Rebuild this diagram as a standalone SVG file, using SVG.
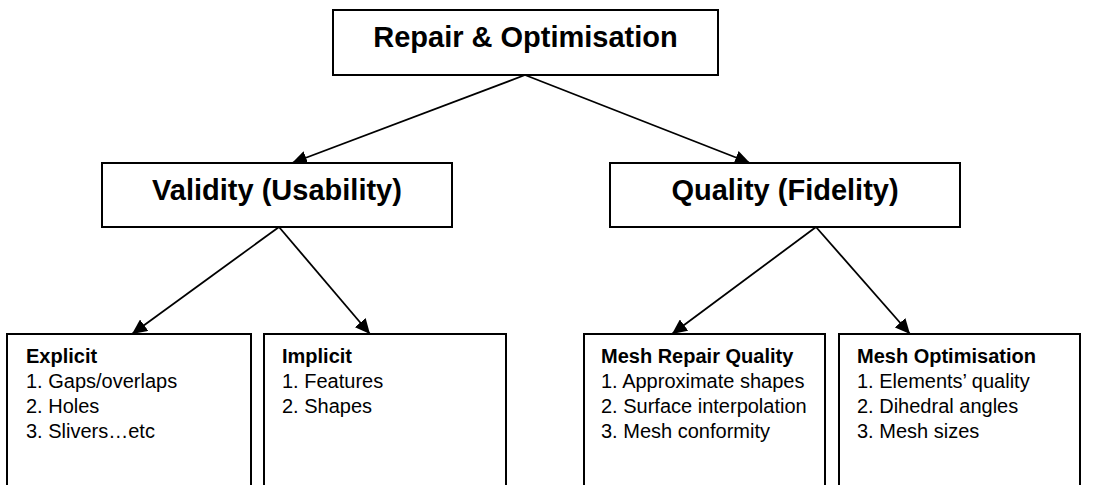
<svg xmlns="http://www.w3.org/2000/svg" width="1117" height="485" viewBox="0 0 1117 485">
  <style>
    .box { fill: #ffffff; stroke: #000000; stroke-width: 2; }
    .title { font-family: "Liberation Sans", Arial, sans-serif; font-weight: bold; font-size: 29px; fill: #000000; text-anchor: middle; }
    .head { font-family: "Liberation Sans", Arial, sans-serif; font-weight: bold; font-size: 20px; fill: #000000; }
    .item { font-family: "Liberation Sans", Arial, sans-serif; font-size: 20px; fill: #000000; }
    .link { fill: none; stroke: #000000; stroke-width: 1.8; marker-end: url(#arrow); }
  </style>
  <defs>
    <marker id="arrow" markerUnits="userSpaceOnUse" markerWidth="16" markerHeight="14" refX="15" refY="7" orient="auto">
      <path d="M0,0 L15,7 L0,14 Z" fill="#000000"/>
    </marker>
  </defs>
  <rect width="1117" height="485" fill="#ffffff"/>

  <!-- connectors -->
  <g id="connectors">
    <line class="link" x1="525" y1="75" x2="292" y2="163"/>
    <line class="link" x1="525" y1="75" x2="750" y2="163"/>
    <line class="link" x1="279" y1="227" x2="132" y2="334"/>
    <line class="link" x1="279" y1="227" x2="370" y2="334"/>
    <line class="link" x1="816" y1="227" x2="672" y2="334"/>
    <line class="link" x1="816" y1="227" x2="910" y2="334"/>
  </g>

  <!-- root -->
  <g id="repair-optimisation">
    <rect class="box" x="333" y="10" width="385" height="65"/>
    <text class="title" x="525.5" y="47">Repair &amp; Optimisation</text>
  </g>

  <!-- second level -->
  <g id="validity">
    <rect class="box" x="102" y="163" width="350" height="64"/>
    <text class="title" x="277" y="200">Validity (Usability)</text>
  </g>
  <g id="quality">
    <rect class="box" x="610" y="163" width="350" height="64"/>
    <text class="title" x="785" y="200">Quality (Fidelity)</text>
  </g>

  <!-- leaves (open at the bottom edge) -->
  <g id="explicit">
    <rect class="box" x="7" y="334" width="244" height="170"/>
    <text class="head" x="26" y="363">Explicit</text>
    <text class="item" x="26" y="388">1. Gaps/overlaps</text>
    <text class="item" x="26" y="413">2. Holes</text>
    <text class="item" x="26" y="438">3. Slivers…etc</text>
  </g>
  <g id="implicit">
    <rect class="box" x="264" y="334" width="242" height="170"/>
    <text class="head" x="282" y="363">Implicit</text>
    <text class="item" x="282" y="388">1. Features</text>
    <text class="item" x="282" y="413">2. Shapes</text>
  </g>
  <g id="mesh-repair-quality">
    <rect class="box" x="584" y="334" width="241" height="170"/>
    <text class="head" x="601" y="363">Mesh Repair Quality</text>
    <text class="item" x="601" y="388">1. Approximate shapes</text>
    <text class="item" x="601" y="413">2. Surface interpolation</text>
    <text class="item" x="601" y="438">3. Mesh conformity</text>
  </g>
  <g id="mesh-optimisation">
    <rect class="box" x="839" y="334" width="241" height="170"/>
    <text class="head" x="857" y="363">Mesh Optimisation</text>
    <text class="item" x="857" y="388">1. Elements’ quality</text>
    <text class="item" x="857" y="413">2. Dihedral angles</text>
    <text class="item" x="857" y="438">3. Mesh sizes</text>
  </g>
</svg>
